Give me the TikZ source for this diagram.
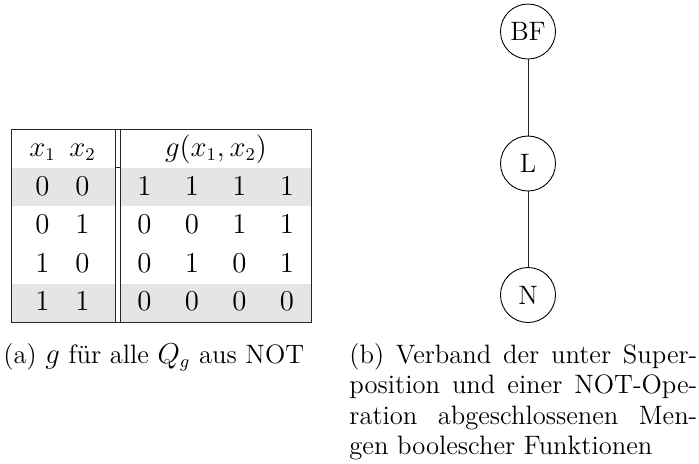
\documentclass[tikz,border=0pt]{standalone}
\usetikzlibrary{positioning}
\definecolor{rowgray}{gray}{0.9}
\tikzset{
  rule/.style={line width=0.45pt, black!85},
  cell/.style={anchor=base, inner sep=0pt},
  setnode/.style={circle, draw, line width=0.45pt, minimum size=27.5pt, inner sep=0pt},
  lattice/.style={line width=0.45pt, black!85},
  capt/.style={anchor=base west, inner sep=0pt}
}
\begin{document}
\begin{tikzpicture}[x=0.5pt, y=-0.5pt, font=\fontsize{13.3}{15.3}\selectfont]
\useasboundingbox (0,0) rectangle (699,463);

% ---- truth table: shaded rows ----
\fill[rowgray] (11,167.7) rectangle (115,206.2);
\fill[rowgray] (120.7,167.7) rectangle (311,206.2);
\fill[rowgray] (11,283.5) rectangle (115,322);
\fill[rowgray] (120.7,283.5) rectangle (311,322);

% ---- truth table: rules ----
\draw[rule] (11,129.5) rectangle (311,322);
\draw[rule] (115,129.5) -- (115,322);
\draw[rule] (120.7,129.5) -- (120.7,322);
\draw[rule] (115,167.7) -- (120.7,167.7);

% ---- header ----
\node[cell] (h1) at (42.5,156) {$x_1$};
\node[cell] (h2) at (82.5,156) {$x_2$};
\node[cell] (hg) at (216,156) {$g(x_1,x_2)$};

% ---- rows: inputs and the four functions ----
\foreach \r/\a/\b/\c/\d/\e/\f [count=\i] in {
    195/0/0/1/1/1/1,
    233.5/0/1/0/0/1/1,
    272/1/0/0/1/0/1,
    310.5/1/1/0/0/0/0} {
  \node[cell] (a\i) at (42.5,\r) {$\a$};
  \node[cell] (b\i) at (82.5,\r) {$\b$};
  \node[cell] (c\i) at (144.5,\r) {$\c$};
  \node[cell] (d\i) at (192,\r) {$\d$};
  \node[cell] (e\i) at (239.5,\r) {$\e$};
  \node[cell] (f\i) at (287,\r) {$\f$};
}

% ---- lattice ----
\node[setnode] (BF) at (528,31.5) {BF};
\node[setnode] (L)  at (528,163.5) {L};
\node[setnode] (N)  at (528,295) {N};
\draw[lattice] (BF) -- (L);
\draw[lattice] (L) -- (N);

% ---- captions ----
\node[capt] (capa) at (3,363) {(a) $g$ für alle $Q_g$ aus NOT};
\node[capt, text width=174pt, align=justify] (capb) at (349,363)
  {(b) Verband der unter Super-\linebreak
   position und einer NOT-Ope-\linebreak
   ration abgeschlossenen Men-\linebreak
   gen boolescher Funktionen};
\end{tikzpicture}
\end{document}
